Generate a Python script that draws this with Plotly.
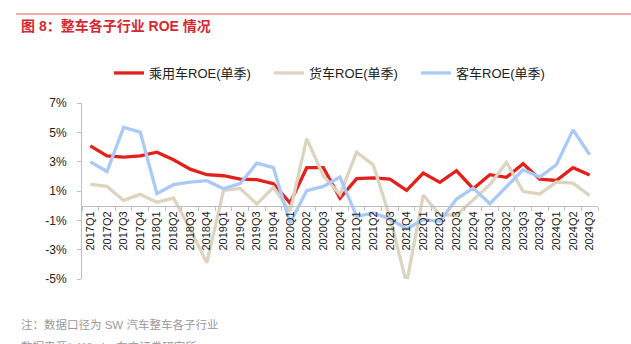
import plotly.graph_objects as go

quarters = [f"{y}Q{q}" for y in range(2017, 2025) for q in range(1, 5)][:31]

passenger = [4.08, 3.40, 3.31, 3.40, 3.65, 3.13, 2.49, 2.11, 2.04, 1.81, 1.77, 1.50,
             0.18, 2.59, 2.59, 0.52, 1.84, 1.90, 1.81, 1.04, 2.22, 1.59, 2.38, 1.16,
             2.11, 1.93, 2.86, 1.81, 1.72, 2.59, 2.09]
truck = [1.45, 1.31, 0.36, 0.77, 0.23, 0.52, -1.6, -3.9, 1.04, 1.18, 0.11, 1.25,
         -0.39, 4.56, 2.04, 0.75, 3.65, 2.77, -0.8, -5.3, 0.72, -0.62, -0.65, 0.41,
         1.43, 2.95, 0.98, 0.79, 1.61, 1.54, 0.68]
bus = [2.99, 2.33, 5.33, 5.01, 0.82, 1.43, 1.61, 1.70, 1.16, 1.50, 2.90, 2.59,
       -1.18, 1.02, 1.31, 1.95, -0.73, -0.50, -0.9, -1.59, -0.95, -1.07, 0.45, 1.2,
       0.14, 1.31, 2.45, 1.95, 2.79, 5.17, 3.47]

series_names = ["乘用车ROE(单季)", "货车ROE(单季)", "客车ROE(单季)"]
series_colors = ["#e3201c", "#ddd4bf", "#a9c9f9"]
legend_widths = [115, 102, 100]

y_tickvals = [-5, -3, -1, 1, 3, 5, 7]
y_ticktext = ["-5%", "-3%", "-1%", "1%", "3%", "5%", "7%"]

FONT = "Liberation Sans, Arial, Noto Sans CJK SC, sans-serif"

fig = go.Figure()
for name, vals, col, lw in zip(series_names, [passenger, truck, bus], series_colors, legend_widths):
    fig.add_trace(go.Scatter(x=quarters, y=vals, mode="lines", name=name,
                             legendwidth=lw,
                             line=dict(color=col, width=3.3)))

# pixel -> paper helpers
L, R, T, B = 82, 33, 103, 65
W, H = 631, 344
pw, ph = W - L - R, H - T - B
px = lambda x: (x - L) / pw
py = lambda y: (H - B - y) / ph

fig.update_layout(
    width=W, height=H,
    margin=dict(l=L, r=R, t=T, b=B, pad=0),
    paper_bgcolor="white", plot_bgcolor="white",
    font=dict(family=FONT, color="#222"),
    showlegend=True,
    legend=dict(orientation="h", x=px(109), xanchor="left", y=py(73), yanchor="middle",
                font=dict(size=13, color="#222"), itemwidth=30,
                bgcolor="rgba(0,0,0,0)", tracegroupgap=0),
    xaxis=dict(type="category", range=[-0.5, 30.5], anchor="free", position=py(206),
               showline=True, linecolor="#bfbfbf", linewidth=1,
               ticks="outside", ticklen=4, tickcolor="#bfbfbf", tickson="boundaries",
               tickangle=-90, tickfont=dict(size=11, color="#222"),
               showgrid=False, zeroline=False),
    yaxis=dict(range=[-5, 7], tickvals=y_tickvals, ticktext=y_ticktext,
               showline=True, linecolor="#bfbfbf", linewidth=1,
               ticks="outside", ticklen=4, tickcolor="#bfbfbf",
               tickfont=dict(size=12, color="#222"), ticklabelstandoff=8,
               showgrid=False, zeroline=False),
)

fig.add_shape(type="line", xref="paper", yref="paper",
              x0=px(16), x1=px(631), y0=py(14), y1=py(14),
              line=dict(color="#e05a5a", width=1))

fig.add_annotation(text="<b>图 8：整车各子行业 ROE 情况</b>", xref="paper", yref="paper",
                   x=px(19), y=py(26), xanchor="left", yanchor="middle", showarrow=False,
                   font=dict(size=14, color="#d7282f", family=FONT))
fig.add_annotation(text="注：数据口径为 SW 汽车整车各子行业", xref="paper", yref="paper",
                   x=px(19), y=py(324), xanchor="left", yanchor="middle", showarrow=False,
                   font=dict(size=11.5, color="#999999", family=FONT))
fig.add_annotation(text="数据来源：Wind，东方证券研究所", xref="paper", yref="paper",
                   x=px(19), y=py(346), xanchor="left", yanchor="middle", showarrow=False,
                   font=dict(size=11.5, color="#999999", family=FONT))

fig.write_html("out.html")
